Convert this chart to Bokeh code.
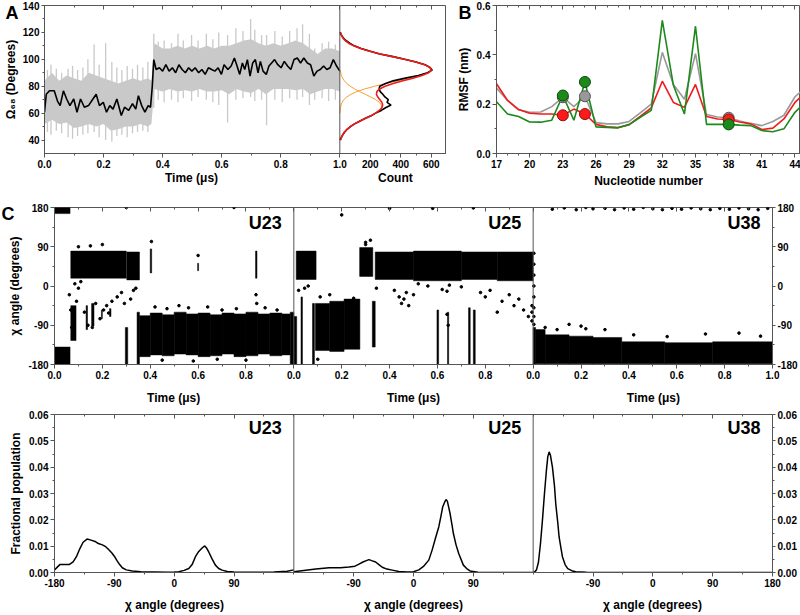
from bokeh.plotting import figure
from bokeh.layouts import column, row
from bokeh.models import Range1d, FixedTicker, Span, LinearAxis, Title
from bokeh.core.properties import value
from bokeh.embed import file_html
from bokeh.resources import INLINE

FONT = "Liberation Sans"
AX = "#555555"
NB = "\u00a0"

# ---------------- Panel A: Omega trace ----------------
a_time = [0.000, 0.006, 0.017, 0.033, 0.044, 0.053, 0.064, 0.075, 0.086, 0.099,
          0.110, 0.122, 0.135, 0.149, 0.164, 0.175, 0.186, 0.199, 0.210, 0.221,
          0.232, 0.245, 0.260, 0.271, 0.285, 0.298, 0.309, 0.318, 0.329, 0.340,
          0.351, 0.359, 0.365, 0.370, 0.378, 0.389, 0.400, 0.411, 0.422, 0.433,
          0.444, 0.455, 0.466, 0.477, 0.488, 0.499, 0.510, 0.522, 0.533, 0.544,
          0.555, 0.566, 0.577, 0.588, 0.599, 0.608, 0.621, 0.632, 0.643, 0.652,
          0.661, 0.670, 0.678, 0.687, 0.696, 0.705, 0.714, 0.723, 0.731, 0.740,
          0.751, 0.760, 0.769, 0.779, 0.790, 0.801, 0.812, 0.823, 0.834, 0.845,
          0.856, 0.867, 0.878, 0.890, 0.901, 0.912, 0.923, 0.934, 0.945, 0.956,
          0.967, 0.978, 0.989, 1.000]
a_omega = [60.7, 74.0, 76.6, 76.6, 69.0, 65.6, 76.6, 70.5, 65.6, 70.5,
           60.7, 70.5, 64.4, 65.6, 70.5, 74.0, 65.6, 68.0, 60.7, 65.6,
           63.0, 70.5, 58.3, 64.4, 62.0, 67.0, 63.0, 73.0, 65.6, 60.7,
           65.6, 64.4, 80.0, 99.8, 92.4, 93.7, 91.2, 96.0, 91.2, 93.7,
           90.0, 96.0, 92.4, 90.0, 93.7, 91.2, 93.7, 90.0, 92.4, 88.8,
           93.7, 92.4, 91.2, 93.7, 88.8, 96.0, 92.4, 95.0, 101.0, 95.0,
           88.8, 97.3, 92.4, 99.8, 87.6, 97.3, 99.8, 90.0, 98.5, 91.2,
           88.8, 95.0, 97.3, 99.8, 96.0, 93.7, 98.5, 95.0, 92.4, 99.8,
           101.0, 97.3, 101.0, 97.3, 96.0, 87.6, 91.2, 92.4, 95.0, 92.4,
           93.7, 99.8, 95.0, 91.2]
a_band_t = [0.000, 0.025, 0.050, 0.075, 0.100, 0.125, 0.150, 0.175, 0.200, 0.225,
            0.250, 0.275, 0.300, 0.325, 0.350, 0.362, 0.372, 0.400, 0.425, 0.450,
            0.475, 0.500, 0.525, 0.550, 0.575, 0.600, 0.625, 0.650, 0.675, 0.700,
            0.725, 0.750, 0.775, 0.800, 0.825, 0.850, 0.875, 0.900, 0.925, 0.950,
            0.975, 1.000]
a_band_lo = [52, 55, 52, 53, 49, 50, 52, 50, 52, 47, 48, 50, 50, 52, 50, 52, 78, 76, 78, 76,
             77, 76, 78, 76, 76, 77, 74, 78, 76, 75, 78, 74, 78, 78, 78, 77, 78, 74, 76, 78,
             78, 76]
a_band_hi = [84, 90, 84, 88, 86, 84, 90, 88, 86, 84, 82, 84, 86, 84, 86, 84, 112, 108, 108, 110,
             108, 110, 108, 110, 108, 110, 110, 112, 114, 115, 112, 110, 112, 110, 112, 114, 112, 108, 104, 108,
             108, 106]
a_spike_t = [0.010, 0.022, 0.040, 0.058, 0.080, 0.095, 0.112, 0.130, 0.147, 0.168,
             0.185, 0.207, 0.228, 0.245, 0.262, 0.280, 0.298, 0.315, 0.333, 0.350,
             0.370, 0.385, 0.405, 0.430, 0.452, 0.470, 0.498, 0.520, 0.548, 0.570,
             0.590, 0.620, 0.648, 0.672, 0.698, 0.712, 0.735, 0.752, 0.780, 0.805,
             0.830, 0.855, 0.874, 0.897, 0.915, 0.940, 0.962, 0.985]
a_spike_lo = [46, 44, 47, 45, 42, 41, 43, 44, 45, 46, 42, 40, 39, 43, 44, 42, 45, 46, 47, 46,
              64, 70, 68, 70, 68, 71, 69, 72, 70, 68, 66, 53, 70, 71, 72, 69, 70, 51, 70, 68,
              71, 70, 72, 66, 70, 71, 69, 70]
a_spike_hi = [92, 96, 93, 90, 93, 95, 92, 94, 100, 111, 96, 112, 98, 94, 92, 95, 93, 96, 94, 98,
              119, 113, 114, 112, 119, 114, 118, 114, 119, 115, 120, 118, 123, 121, 130, 122, 118, 118, 121, 117,
              121, 123, 126, 119, 108, 112, 113, 111]
a_xticks = [0.0, 0.2, 0.4, 0.6, 0.8, 1.0]
a_xlabels = ["0.0", "0.2", "0.4", "0.6", "0.8", "1.0"]
a_yticks = [40, 60, 80, 100, 120, 140]

# ---------------- Panel A: histogram ----------------
h_angle = [40, 42, 44, 46, 48, 50, 52, 54, 56, 58, 60, 62, 64, 66, 68, 70, 72, 74, 76, 78,
           80, 82, 84, 86, 88, 90, 92, 94, 96, 98, 100, 102, 104, 106, 108, 110, 112, 114, 116, 118, 120]
h_count = [0, 10, 20, 32, 48, 70, 96, 130, 165, 205, 235, 272, 300, 336, 310, 318, 296, 282, 265, 258,
           262, 300, 350, 430, 515, 575, 606, 590, 560, 500, 425, 350, 262, 200, 140, 95, 65, 40, 22, 10, 0]
h_fit = [6, 11, 19, 30, 47, 68, 97, 130, 165, 203, 234, 259, 276, 281, 276, 263, 249, 240, 243, 261,
         297, 350, 414, 480, 539, 583, 600, 592, 556, 498, 424, 344, 265, 195, 136, 91, 57, 34, 19, 11, 6]
h1_angle = [40, 42, 44, 46, 48, 50, 52, 54, 56, 58, 60, 62, 64, 66, 68, 70, 72, 74, 76, 78,
            80, 82, 84, 86, 88, 90, 92]
h1_count = [6, 10, 18, 30, 46, 68, 97, 129, 165, 203, 234, 258, 273, 273, 260, 236, 203, 167, 130, 97,
            68, 46, 30, 18, 10, 6, 3]
h2_angle = [60, 62, 64, 66, 68, 70, 72, 74, 76, 78, 80, 82, 84, 86, 88, 90, 92, 94, 96, 98,
            100, 102, 104, 106, 108, 110, 112, 114, 116, 118, 120]
h2_count = [1, 2, 4, 8, 15, 26, 45, 73, 112, 164, 229, 304, 384, 462, 529, 577, 600, 592, 556, 498,
            424, 344, 265, 195, 136, 91, 57, 34, 19, 11, 6]
h_ticks = [200, 400, 600]

# ---------------- Panel B: RMSF ----------------
b_nuc = [17, 18, 19, 20, 21, 22, 23, 24, 25, 26, 27, 28, 29, 30, 31, 32, 33, 34, 35, 36,
         37, 38, 39, 40, 41, 42, 43, 44, 45]
b_gray = [0.265, 0.215, 0.177, 0.167, 0.168, 0.19, 0.228, 0.19, 0.232, 0.125,
          0.12, 0.12, 0.13, 0.165, 0.2, 0.41, 0.28, 0.22, 0.405, 0.158,
          0.148, 0.145, 0.132, 0.122, 0.113, 0.13, 0.155, 0.23, 0.27]
b_red = [0.283, 0.215, 0.178, 0.163, 0.16, 0.16, 0.155, 0.18, 0.16, 0.118,
         0.108, 0.105, 0.117, 0.15, 0.185, 0.293, 0.207, 0.187, 0.28, 0.15,
         0.14, 0.138, 0.128, 0.12, 0.097, 0.103, 0.14, 0.207, 0.25]
b_green = [0.21, 0.16, 0.15, 0.128, 0.127, 0.135, 0.235, 0.135, 0.29, 0.108,
           0.106, 0.104, 0.117, 0.147, 0.175, 0.54, 0.277, 0.16, 0.516, 0.118,
           0.118, 0.118, 0.115, 0.113, 0.093, 0.088, 0.1, 0.167, 0.21]
b_marked = [23, 25, 38]
b_xticks = [17, 20, 23, 26, 29, 32, 35, 38, 41, 44]
b_yticks = [0.0, 0.2, 0.4, 0.6]

# ---------------- Panel C: chi angle vs time (dense regions + sparse points) ----------------
u23_t0 = [0.000, 0.000, 0.068, 0.302, 0.068, 0.132, 0.155, 0.196, 0.230, 0.296, 0.345,
          0.355, 0.400, 0.450, 0.500, 0.550, 0.600, 0.650, 0.700, 0.750, 0.800, 0.850, 0.900, 0.950,
          0.400, 0.598, 0.840, 0.985]
u23_t1 = [0.065, 0.065, 0.300, 0.355, 0.090, 0.138, 0.165, 0.200, 0.236, 0.306, 0.355,
          0.400, 0.450, 0.500, 0.550, 0.600, 0.650, 0.700, 0.750, 0.800, 0.850, 0.900, 0.950, 0.985,
          0.406, 0.602, 0.846, 1.000]
u23_lo = [-180, 166, 18, 14, -125, -100, -92, -75, -70, -180, -180,
          -162, -158, -160, -156, -158, -162, -160, -156, -162, -160, -156, -160, -158,
          30, 35, 18, -180]
u23_hi = [-140, 180, 80, 78, -45, -45, -40, -55, -52, -95, -60,
          -68, -62, -66, -60, -64, -62, -66, -62, -64, -60, -64, -62, -64,
          85, 52, 80, -60]
u23_dot_t = [0.062, 0.068, 0.072, 0.080, 0.085, 0.092, 0.100, 0.110, 0.125, 0.140,
             0.158, 0.172, 0.190, 0.205, 0.218, 0.226, 0.240, 0.262, 0.280, 0.292,
             0.318, 0.330, 0.340, 0.150, 0.200, 0.100, 0.405, 0.600, 0.842, 0.845,
             0.420, 0.470, 0.520, 0.560, 0.640, 0.700, 0.760, 0.880, 0.930, 0.450,
             0.580, 0.680, 0.800, 0.300, 0.750]
u23_dot_a = [-20, -55, -95, -110, 5, -35, -5, 10, -60, -90,
             -95, -40, -75, -55, -45, -62, -35, -25, -15, -40,
             -30, -10, -5, 92, 95, 90, 102, 70, -20, -40,
             -48, -52, -45, -50, -48, -55, -52, -50, -55, -170,
             -172, -168, -170, 180, 180]

u25_t0 = [0.000, 0.010, 0.030, 0.078, 0.090, 0.150, 0.210, 0.275, 0.328,
          0.340, 0.500, 0.700, 0.850, 0.598, 0.642, 0.730, 0.750]
u25_t1 = [0.012, 0.093, 0.036, 0.086, 0.150, 0.210, 0.276, 0.330, 0.340,
          0.500, 0.700, 0.850, 1.000, 0.605, 0.647, 0.737, 0.758]
u25_lo = [-180, 15, -180, -180, -148, -150, -145, 22, -140,
          15, 12, 15, 12, -180, -180, -180, -180]
u25_hi = [-70, 80, -25, -40, -40, -35, -30, 88, -35,
          78, 80, 78, 78, -55, -60, -50, -55]
u25_dot_t = [0.200, 0.020, 0.045, 0.060, 0.110, 0.150, 0.250, 0.300, 0.320, 0.345,
             0.420, 0.440, 0.450, 0.460, 0.470, 0.480, 0.500, 0.520, 0.560, 0.620,
             0.640, 0.700, 0.780, 0.800, 0.820, 0.850, 0.870, 0.900, 0.920, 0.940,
             0.960, 0.980, 0.995, 0.995, 0.995, 0.650, 0.300, 0.100, 0.400, 0.580,
             0.750, 0.640, 0.645]
u25_dot_a = [163, -10, -5, 0, -25, -20, -28, 100, 105, -5,
             -10, -25, -40, -30, -15, -45, -20, 5, 0, -8,
             -12, -2, -15, -25, -10, -60, -35, -20, -45, -30,
             -55, -70, -45, -60, -80, 2, 95, -168, 178, 178,
             179, -65, -90]

u38_t0 = [0.000, 0.010, 0.050, 0.150, 0.250, 0.370, 0.550, 0.750]
u38_t1 = [0.010, 0.050, 0.150, 0.250, 0.370, 0.550, 0.750, 1.000]
u38_lo = [-180, -178, -178, -178, -178, -178, -178, -178]
u38_hi = [-95, -100, -112, -115, -118, -128, -130, -128]
u38_dot_t = [0.003, 0.003, 0.003, 0.003, 0.003, 0.003, 0.003, 0.003,
             0.080, 0.130, 0.180, 0.220, 0.250, 0.300, 0.340, 0.380, 0.420, 0.460,
             0.500, 0.540, 0.580, 0.620, 0.660, 0.700, 0.740, 0.780, 0.820, 0.860,
             0.900, 0.940, 0.980,
             0.150, 0.200, 0.220, 0.300, 0.420, 0.560, 0.720, 0.860, 0.950, 0.050, 0.100]
u38_dot_a = [75, 50, 25, 0, -25, -50, -70, -88,
             176, 179, 175, 180, 177, 178, 175, 179, 176, 180,
             177, 175, 178, 176, 179, 177, 175, 178, 176, 179,
             177, 175, 178,
             -88, -92, -98, -100, -112, -116, -110, -108, -115, -95, -100]

# ---------------- Panel C: fractional population ----------------
p23_angle = [-180, -172, -165, -158, -152, -147, -142, -137, -131, -125,
             -119, -114, -108, -103, -99, -94, -90, -86, -82, -78,
             -72, -63, -50, -30, -10, 0, 7, 15, 22, 27,
             32, 37, 42, 46, 49, 52, 57, 62, 67, 72,
             80, 90, 120, 150, 170, 180]
p23_pop = [0.001, 0.003, 0.003, 0.003, 0.004, 0.006, 0.009, 0.0115, 0.0127, 0.0123,
           0.0118, 0.011, 0.0105, 0.0098, 0.0088, 0.0075, 0.0062, 0.0045, 0.003, 0.0018,
           0.001, 0.0006, 0.0003, 0.0002, 0.0001, 0.0002, 0.0003, 0.0008, 0.0015, 0.003,
           0.006, 0.008, 0.0093, 0.0101, 0.0092, 0.0078, 0.0052, 0.0028, 0.0015, 0.0009,
           0.0004, 0.0002, 0.0001, 0.0002, 0.0005, 0.001]
p25_angle = [-180, -165, -147, -127, -110, -97, -88, -82, -76, -70,
             -67, -63, -57, -52, -47, -40, -32, -22, -10, 0,
             8, 15, 23, 28, 33, 38, 41, 44, 47, 49,
             51, 55, 58, 60, 64, 68, 75, 80, 85, 97,
             120, 180]
p25_pop = [0.0003, 0.0008, 0.0013, 0.0018, 0.0018, 0.0021, 0.0024, 0.0032, 0.004, 0.0046,
           0.0049, 0.0045, 0.004, 0.003, 0.002, 0.0013, 0.0009, 0.0004, 0.0002, 0.0003,
           0.001, 0.0023, 0.0047, 0.0085, 0.013, 0.0173, 0.021, 0.025, 0.0268, 0.0277,
           0.027, 0.0224, 0.018, 0.0148, 0.0105, 0.0072, 0.0028, 0.0015, 0.0006, 0.0001,
           0.0, 0.0]
p38_angle = [-180, -178, -175, -172, -169, -166, -163, -160, -158, -156,
             -154, -151, -148, -146, -143, -141, -138, -136, -132, -128,
             -122, -116, -100, -60, 0, 90, 180]
p38_pop = [0.0, 0.0002, 0.001, 0.004, 0.011, 0.02, 0.03, 0.039, 0.044, 0.0458,
           0.0445, 0.040, 0.033, 0.026, 0.019, 0.0135, 0.009, 0.006, 0.003, 0.0015,
           0.0007, 0.0003, 0.0001, 0.0, 0.0, 0.0, 0.0]

residues = ["U23", "U25", "U38"]
time_labels = ["0.0", "0.2", "0.4", "0.6", "0.8"]
chi_ticks = [-180, -90, 0, 90, 180]
pop_ticks = [0.0, 0.01, 0.02, 0.03, 0.04, 0.05, 0.06]


# ---------------- helpers ----------------
def base_fig(width, height, xr, yr, mbl, mbr, mbt, mbb, y_loc="left"):
    p = figure(width=width, height=height, x_range=xr, y_range=yr, title=None,
               output_backend="svg", toolbar_location=None, y_axis_location=y_loc,
               min_border_left=mbl, min_border_right=mbr,
               min_border_top=mbt, min_border_bottom=mbb)
    p.xgrid.visible = False
    p.ygrid.visible = False
    p.outline_line_color = AX
    p.outline_line_width = 1
    p.background_fill_color = "white"
    p.border_fill_color = "white"
    return p


def style_axis(ax, ticks, labels, minor, title=None, standoff=3, tick_out=4):
    ax.ticker = FixedTicker(ticks=ticks, minor_ticks=minor)
    ax.major_label_overrides = dict(zip(ticks, labels))
    ax.major_label_text_font = FONT
    ax.major_label_text_font_style = "bold"
    ax.major_label_text_font_size = "10px"
    ax.major_label_text_color = "black"
    ax.major_label_standoff = 2
    ax.axis_line_color = AX
    ax.major_tick_line_color = AX
    ax.minor_tick_line_color = AX
    ax.major_tick_out = tick_out
    ax.major_tick_in = 0
    ax.minor_tick_out = 2
    ax.minor_tick_in = 0
    if title:
        ax.axis_label = title
        ax.axis_label_text_font = FONT
        ax.axis_label_text_font_style = "bold"
        ax.axis_label_text_font_size = "12px"
        ax.axis_label_text_color = "black"
        ax.axis_label_standoff = standoff


def mirror_top(p, ticks, minor):
    # inward tick marks on the top edge of the box, without labels
    ax = LinearAxis()
    p.add_layout(ax, "above")
    ax.ticker = FixedTicker(ticks=ticks, minor_ticks=minor)
    ax.major_label_text_font_size = "0px"
    ax.major_label_text_color = None
    ax.major_label_standoff = 0
    ax.axis_line_color = None
    ax.major_tick_line_color = AX
    ax.minor_tick_line_color = AX
    ax.major_tick_in = 4
    ax.major_tick_out = 0
    ax.minor_tick_in = 2
    ax.minor_tick_out = 0


def letter(p, text, offset, standoff):
    p.add_layout(Title(text=text, align="left", offset=offset, vertical_align="bottom",
                       standoff=standoff, text_font=FONT, text_font_style="bold",
                       text_font_size="18px", text_color="black"), "above")


# ---------------- Row 1: panel A (trace + histogram) ----------------
A_MAIN_PX = 299
A_HIST_PX = 108
COUNT_MAX = 700
pa = base_fig(446, 190, Range1d(0, (A_MAIN_PX + A_HIST_PX) / A_MAIN_PX), Range1d(30, 140), 39, 0, 5, 35)
pa.extra_x_ranges = {"count": Range1d(-COUNT_MAX * A_MAIN_PX / A_HIST_PX, COUNT_MAX)}
pa.varea(x=a_band_t, y1=a_band_lo, y2=a_band_hi, fill_color="#c9c9c9")
pa.segment(x0=a_spike_t, y0=a_spike_lo, x1=a_spike_t, y1=a_spike_hi, line_color="#c9c9c9", line_width=1.3)
pa.line(a_time, a_omega, line_color="black", line_width=1.6)
pa.line(h1_count, h1_angle, x_range_name="count", line_color="#f5a030", line_width=1)
pa.line(h2_count, h2_angle, x_range_name="count", line_color="#f5a030", line_width=1)
pa.line(h_count, h_angle, x_range_name="count", line_color="black", line_width=1.6)
pa.line(h_fit, h_angle, x_range_name="count", line_color="#ee1c1c", line_width=1.6)
pa.add_layout(Span(location=1.0, dimension="height", line_color=AX, line_width=1))
count_pos = [1 + c / COUNT_MAX * A_HIST_PX / A_MAIN_PX for c in h_ticks]
a_minor = [round(i * 0.1, 4) for i in range(11)] + [1 + c / COUNT_MAX * A_HIST_PX / A_MAIN_PX for c in (100, 300, 500, 700)]
a_title = NB * 26 + "Time (μs)" + NB * 48 + "Count"
style_axis(pa.xaxis[0], a_xticks + count_pos, a_xlabels + [str(c) for c in h_ticks], a_minor,
           title=a_title, standoff=0)
style_axis(pa.yaxis[0], a_yticks, [str(v) for v in a_yticks], [50, 70, 90, 110, 130],
           title="Ω₆₈ (Degrees)", standoff=2, tick_out=3)
letter(pa, "A", -39, -34)
mirror_top(pa, a_xticks + count_pos, a_minor)

# ---------------- Row 1: panel B ----------------
pb = base_fig(354, 190, Range1d(17, 44.5), Range1d(0, 0.6), 50, 0, 5, 35)
pb.line(b_nuc, b_gray, line_color="#999999", line_width=1.6)
pb.line(b_nuc, b_red, line_color="#ee1c1c", line_width=1.6)
pb.line(b_nuc, b_green, line_color="#1b8a1b", line_width=1.6)
idx = [b_nuc.index(n) for n in b_marked]
pb.scatter(b_marked, [b_gray[i] for i in idx], size=11, fill_color="#999999", line_color="#555555")
pb.scatter(b_marked, [b_red[i] for i in idx], size=11, fill_color="#ff1a1a", line_color="#8a1010")
pb.scatter(b_marked, [b_green[i] for i in idx], size=11, fill_color="#1b8a1b", line_color="#0c4a0c")
style_axis(pb.xaxis[0], b_xticks, [str(v) for v in b_xticks], list(range(17, 45)),
           title="Nucleotide number", standoff=3)
style_axis(pb.yaxis[0], b_yticks, ["0.0", "0.2", "0.4", "0.6"], [0.1, 0.3, 0.5],
           title="RMSF (nm)", standoff=3)
letter(pb, "B", -38, -34)
mirror_top(pb, b_xticks, list(range(17, 45)))

# ---------------- Row 2: chi vs time ----------------
pc = base_fig(800, 217, Range1d(0, 3), Range1d(-180, 180), 54, 26, 17, 41)
pc.extra_x_ranges = {"U25": Range1d(-1, 2), "U38": Range1d(-2, 1)}
blocks = [("default", u23_t0, u23_t1, u23_lo, u23_hi, u23_dot_t, u23_dot_a),
          ("U25", u25_t0, u25_t1, u25_lo, u25_hi, u25_dot_t, u25_dot_a),
          ("U38", u38_t0, u38_t1, u38_lo, u38_hi, u38_dot_t, u38_dot_a)]
for rn, t0, t1, lo, hi, dt, da in blocks:
    pc.quad(left=t0, right=t1, bottom=lo, top=hi, x_range_name=rn, fill_color="black", line_color="black", line_width=0.5)
    pc.scatter(dt, da, x_range_name=rn, size=2.6, fill_color="black", line_color="black")
for rn, name in zip(["default", "U25", "U38"], residues):
    pc.text(x=[0.95], y=[144], text=[name], x_range_name=rn, text_font=value(FONT),
            text_font_style="bold", text_font_size="18px", text_align="right", text_baseline="middle")
for loc in (1, 2):
    pc.add_layout(Span(location=loc, dimension="height", line_color=AX, line_width=1))
c_xt, c_xl = [], []
for k in range(3):
    for i, lab in enumerate(time_labels):
        c_xt.append(round(k + i * 0.2, 6))
        c_xl.append(lab)
c_xt.append(3.0)
c_xl.append("1.0")
c_minor = [round(i * 0.1, 6) for i in range(31)]
c_title = (NB * 56).join(["Time (μs)"] * 3)
style_axis(pc.xaxis[0], c_xt, c_xl, c_minor, title=c_title, standoff=9)
chi_minor = [-135, -45, 45, 135]
style_axis(pc.yaxis[0], chi_ticks, [str(v) for v in chi_ticks], chi_minor,
           title="χ angle (degrees)", standoff=3)
rax = LinearAxis()
pc.add_layout(rax, "right")
style_axis(rax, chi_ticks, [str(v) for v in chi_ticks], chi_minor, tick_out=3)
letter(pc, "C", -53, -33)
mirror_top(pc, c_xt, c_minor)

# ---------------- Row 3: population histograms ----------------
pd_ = base_fig(800, 207, Range1d(-180, 900), Range1d(0, 0.06), 54, 26, 7, 40)
pd_.extra_x_ranges = {"U25": Range1d(-540, 540), "U38": Range1d(-900, 180)}
for rn, ang, pop in [("default", p23_angle, p23_pop), ("U25", p25_angle, p25_pop), ("U38", p38_angle, p38_pop)]:
    pd_.line(ang, pop, x_range_name=rn, line_color="black", line_width=1.5)
for rn, name in zip(["default", "U25", "U38"], residues):
    pd_.text(x=[162], y=[0.0548], text=[name], x_range_name=rn, text_font=value(FONT),
             text_font_style="bold", text_font_size="18px", text_align="right", text_baseline="middle")
for loc in (180, 540):
    pd_.add_layout(Span(location=loc, dimension="height", line_color=AX, line_width=1))
d_xt = [-180, -90, 0, 90, 270, 360, 450, 630, 720, 810, 900]
d_xl = ["-180", "-90", "0", "90", "-90", "0", "90", "-90", "0", "90", "180"]
d_minor = list(range(-180, 901, 45))
d_title = (NB * 42).join(["χ angle (degrees)"] * 3)
style_axis(pd_.xaxis[0], d_xt, d_xl, d_minor, title=d_title, standoff=8)
pop_labels = ["%.2f" % v for v in pop_ticks]
pop_minor = [0.005, 0.015, 0.025, 0.035, 0.045, 0.055]
style_axis(pd_.yaxis[0], pop_ticks, pop_labels, pop_minor, title="Fractional population", standoff=3)
rax2 = LinearAxis()
pd_.add_layout(rax2, "right")
style_axis(rax2, pop_ticks, pop_labels, pop_minor, tick_out=3)
mirror_top(pd_, d_xt, d_minor)

layout = column(row(pa, pb), pc, pd_)
open("out.html", "w").write(file_html(layout, INLINE))
